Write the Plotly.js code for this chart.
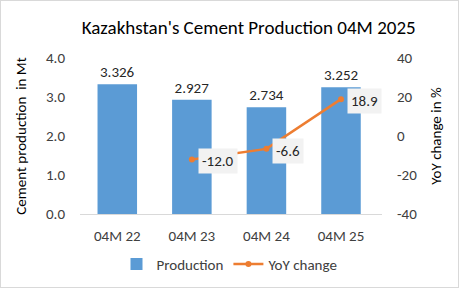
<!DOCTYPE html>
<html><head><meta charset="utf-8">
<script src="https://cdn.plot.ly/plotly-3.0.1.min.js"></script>
<style>html,body{margin:0;padding:0;background:#fff}#c{width:457px;height:286px;border:1px solid #d9d9d9}</style>
</head><body><div id="c"></div>
<script>
const categories = ["04M 22", "04M 23", "04M 24", "04M 25"];
const production = [3.326, 2.927, 2.734, 3.252];
const yoyChange = [null, -12.0, -6.6, 18.9];
const productionLabels = ["3.326", "2.927", "2.734", "3.252"];
const yoyLabels = [null, "-12.0", "-6.6", "18.9"];
const leftTicks = [0, 1, 2, 3, 4];
const leftTickText = ["0.0", "1.0", "2.0", "3.0", "4.0"];
const rightTicks = [-40, -20, 0, 20, 40];
const rightTickText = ["-40", "-20", "0", "20", "40"];

const font = "Calibri, Carlito, Lato, 'Open Sans', sans-serif";

const traces = [
  {type: "bar", name: "Production", x: categories, y: production,
   marker: {color: "#5B9BD5"}, width: 0.53,
   text: productionLabels, textposition: "outside", cliponaxis: false,
   textfont: {family: font, size: 15, color: "#262626"}},
  {type: "scatter", mode: "lines+markers", name: "YoY change", x: categories, y: yoyChange,
   yaxis: "y2", line: {color: "#ED7D31", width: 2.5}, marker: {color: "#ED7D31", size: 6}}
];

const annotations = [];
categories.forEach((c, i) => {
  if (yoyChange[i] !== null) {
    annotations.push({x: c, y: yoyChange[i], xref: "x", yref: "y2", text: yoyLabels[i],
      showarrow: false, xanchor: "left", yanchor: "middle", xshift: 6, yshift: -2,
      bgcolor: "#f2f2f2", borderpad: 3,
      font: {family: font, size: 15, color: "#262626"}});
  }
});

const layout = {
  width: 457, height: 286,
  margin: {l: 79, r: 76, t: 57, b: 73},
  paper_bgcolor: "#fff", plot_bgcolor: "#fff",
  font: {family: font, size: 15, color: "#404040"},
  title: {text: "Kazakhstan's Cement Production 04M 2025", x: 0.542, xanchor: "center", y: 0.93,
          font: {family: font, size: 19, color: "#000"}},
  xaxis: {showline: true, linecolor: "#d9d9d9", linewidth: 1, ticks: "", ticklabelstandoff: 8,
          automargin: false, tickfont: {size: 15, color: "#404040"}},
  yaxis: {range: [0, 4], tickvals: leftTicks, ticktext: leftTickText, showgrid: false, zeroline: false,
          automargin: false,
          tickfont: {size: 15, color: "#404040"}, ticklabelstandoff: 14,
          title: {text: "Cement production  in Mt", font: {size: 15, color: "#000"}, standoff: 15}},
  yaxis2: {overlaying: "y", side: "right", range: [-40, 40], tickvals: rightTicks, ticktext: rightTickText,
           showgrid: false, zeroline: false, automargin: false,
           tickfont: {size: 15, color: "#404040"}, ticklabelstandoff: 14,
           title: {text: "YoY change in %", font: {size: 15, color: "#000"}, standoff: 14}},
  legend: {orientation: "h", x: 0.5, xanchor: "center", xref: "container", yref: "container",
           y: 0.022, yanchor: "bottom", font: {size: 15, color: "#404040"}},
  annotations: annotations,
  showlegend: true
};

Plotly.newPlot("c", traces, layout, {displayModeBar: false, staticPlot: true});
</script></body></html>
